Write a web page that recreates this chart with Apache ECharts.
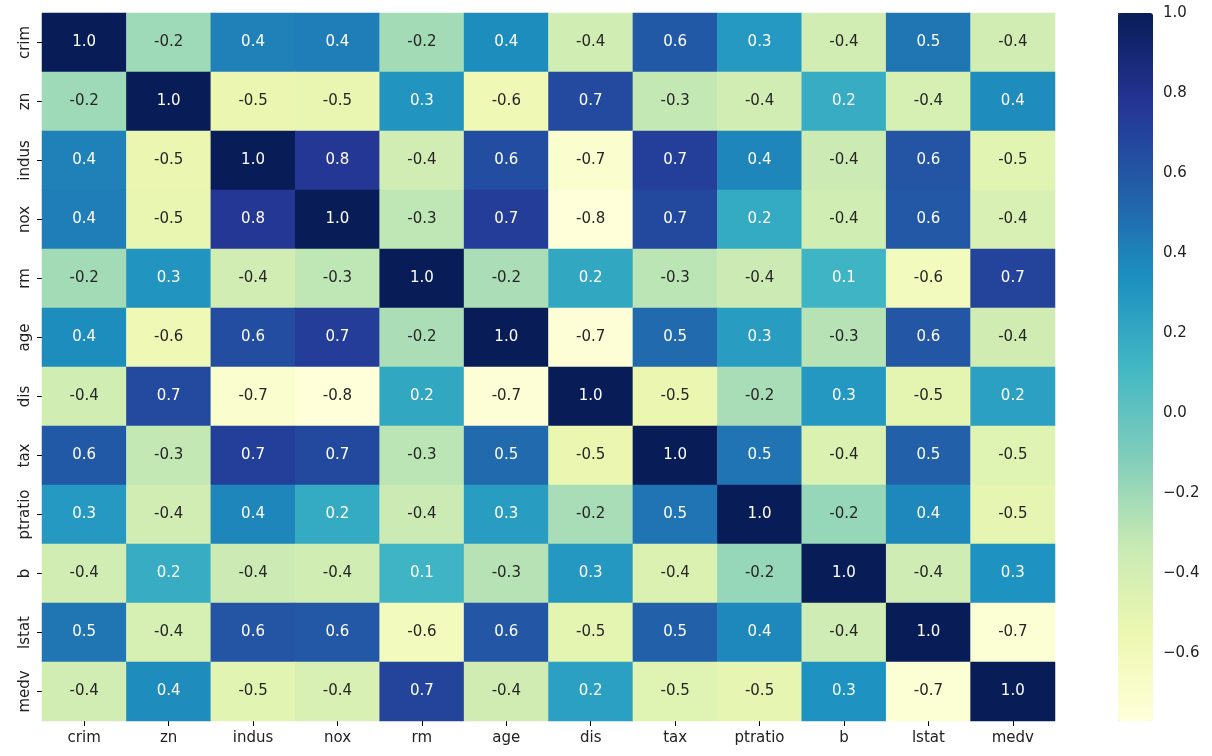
<!DOCTYPE html>
<html>
<head>
<meta charset="utf-8">
<script src="https://cdn.jsdelivr.net/npm/echarts@6/dist/echarts.min.js"></script>
<style>
  html, body { margin: 0; padding: 0; background: #fff; }
  #chart { width: 1212px; height: 756px; }
</style>
</head>
<body>
<div id="chart"></div>
<script>
// variable names, same order on both axes
const names = ['crim', 'zn', 'indus', 'nox', 'rm', 'age', 'dis', 'tax', 'ptratio', 'b', 'lstat', 'medv'];

// correlation rows
const crim    = [1, -0.200, 0.407, 0.421, -0.219, 0.353, -0.380, 0.583, 0.290, -0.385, 0.456, -0.388];
const zn      = [-0.200, 1, -0.534, -0.517, 0.312, -0.570, 0.664, -0.315, -0.392, 0.176, -0.413, 0.360];
const indus   = [0.407, -0.534, 1, 0.764, -0.392, 0.645, -0.708, 0.721, 0.383, -0.357, 0.604, -0.484];
const nox     = [0.421, -0.517, 0.764, 1, -0.302, 0.731, -0.769, 0.668, 0.189, -0.380, 0.591, -0.427];
const rm      = [-0.219, 0.312, -0.392, -0.302, 1, -0.240, 0.205, -0.292, -0.356, 0.128, -0.614, 0.695];
const age     = [0.353, -0.570, 0.645, 0.731, -0.240, 1, -0.748, 0.506, 0.262, -0.274, 0.602, -0.377];
const dis     = [-0.380, 0.664, -0.708, -0.769, 0.205, -0.748, 1, -0.534, -0.232, 0.292, -0.497, 0.249];
const tax     = [0.583, -0.315, 0.721, 0.668, -0.292, 0.506, -0.534, 1, 0.461, -0.442, 0.544, -0.469];
const ptratio = [0.290, -0.392, 0.383, 0.189, -0.356, 0.262, -0.232, 0.461, 1, -0.177, 0.374, -0.508];
const b       = [-0.385, 0.176, -0.357, -0.380, 0.128, -0.274, 0.292, -0.442, -0.177, 1, -0.366, 0.333];
const lstat   = [0.456, -0.413, 0.604, 0.591, -0.614, 0.602, -0.497, 0.544, 0.374, -0.366, 1, -0.738];
const medv    = [-0.388, 0.360, -0.484, -0.427, 0.695, -0.377, 0.249, -0.469, -0.508, 0.333, -0.738, 1];
const rows = [crim, zn, indus, nox, rm, age, dis, tax, ptratio, b, lstat, medv];

// colorbar ticks
const cbarTicks = [-0.6, -0.4, -0.2, 0.0, 0.2, 0.4, 0.6, 0.8, 1.0];

const ylgnbu = ['#ffffd9', '#edf8b1', '#c7e9b4', '#7fcdbb', '#41b6c4', '#1d91c0', '#225ea8', '#253494', '#081d58'];
const vmin = -0.769, vmax = 1.0;

const cells = [];
rows.forEach((row, y) => {
  row.forEach((v, x) => {
    cells.push({
      value: [x, y, v],
      label: { color: v > 0 ? '#ffffff' : '#262626' }
    });
  });
});

const font = 'DejaVu Sans';
const tick = { show: true, length: 5, lineStyle: { color: '#000', width: 1 } };
const chart = echarts.init(document.getElementById('chart'));
chart.setOption({
  animation: false,
  grid: [
    { left: 42, top: 13, width: 1013, height: 708 },
    { left: 1118, top: 13, width: 35, height: 708 }
  ],
  xAxis: [
    {
      type: 'category', data: names, gridIndex: 0,
      axisLine: { show: true, lineStyle: { color: 'rgba(0,0,0,0)' } },
      axisTick: Object.assign({ alignWithLabel: true, interval: 0 }, tick),
      axisLabel: { fontFamily: font, fontSize: 15, color: '#222', margin: 10, interval: 0 },
      splitLine: { show: false }
    },
    { type: 'value', gridIndex: 1, show: false, min: 0, max: 1 }
  ],
  yAxis: [
    {
      type: 'category', data: names, gridIndex: 0, inverse: true,
      axisLine: { show: true, lineStyle: { color: 'rgba(0,0,0,0)' } },
      axisTick: Object.assign({ alignWithLabel: true, interval: 0 }, tick),
      axisLabel: { fontFamily: font, fontSize: 15, color: '#222', rotate: 90, margin: 9, interval: 0 },
      splitLine: { show: false }
    },
    {
      type: 'value', gridIndex: 1, position: 'right', min: vmin, max: vmax,
      axisLine: { show: true, lineStyle: { color: 'rgba(0,0,0,0)' } },
      axisTick: Object.assign({ customValues: cbarTicks }, tick),
      axisLabel: {
        fontFamily: font, fontSize: 15, color: '#222', margin: 10,
        padding: [5, 0, 0, 0],
        customValues: cbarTicks,
        formatter: v => (v < 0 ? '\u2212' : '') + Math.abs(v).toFixed(1)
      },
      splitLine: { show: false }
    }
  ],
  visualMap: {
    type: 'continuous',
    seriesIndex: 0,
    min: vmin, max: vmax,
    calculable: false,
    show: true,
    orient: 'vertical',
    left: 1118, top: 13,
    itemWidth: 35, itemHeight: 708,
    padding: 0,
    text: null,
    showLabel: false,
    inRange: { color: ylgnbu }
  },
  series: [
    {
      type: 'heatmap',
      xAxisIndex: 0, yAxisIndex: 0,
      data: cells,
      label: {
        show: true,
        fontFamily: font, fontSize: 15,
        formatter: p => p.value[2].toFixed(1)
      },
      itemStyle: { borderWidth: 0 },
      emphasis: { disabled: true }
    },
    {
      type: 'scatter', xAxisIndex: 1, yAxisIndex: 1, data: [], silent: true
    }
  ]
});
</script>
</body>
</html>
